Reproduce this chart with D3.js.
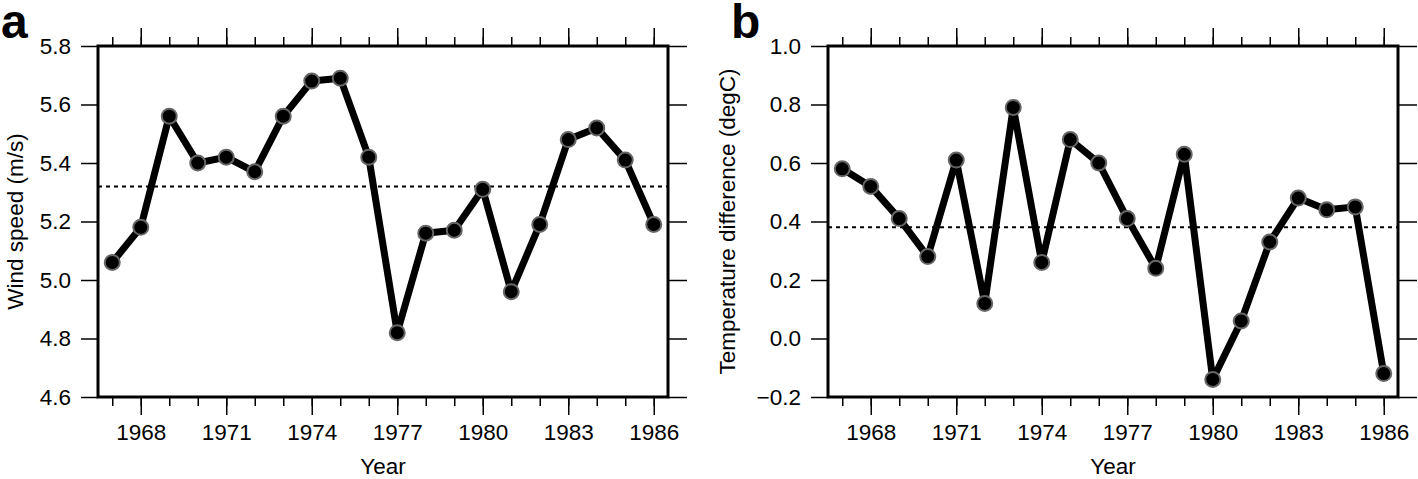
<!DOCTYPE html>
<html lang="en">
<head>
<meta charset="UTF-8">
<title>Wind speed and temperature difference</title>
<style>
  body { margin: 0; background: #fff; }
  svg { display: block; font-family: "Liberation Sans", Arial, sans-serif; }
</style>
</head>
<body>
<svg id="chart" width="1418" height="479"></svg>
<script src="https://cdn.jsdelivr.net/npm/d3@7/dist/d3.min.js"></script>
<script>
const years = d3.range(1967, 1987);
const windSpeed = [5.06, 5.18, 5.56, 5.40, 5.42, 5.37, 5.56, 5.68, 5.69, 5.42,
                   4.82, 5.16, 5.17, 5.31, 4.96, 5.19, 5.48, 5.52, 5.41, 5.19];
const tempDiff = [0.58, 0.52, 0.41, 0.28, 0.61, 0.12, 0.79, 0.26, 0.68, 0.60,
                  0.41, 0.24, 0.63, -0.14, 0.06, 0.33, 0.48, 0.44, 0.45, -0.12];
const windMean = 5.32;
const tempMean = 0.38;
const yearTicks = [1968, 1971, 1974, 1977, 1980, 1983, 1986];
const windTicks = [4.6, 4.8, 5.0, 5.2, 5.4, 5.6, 5.8];
const tempTicks = [-0.2, 0.0, 0.2, 0.4, 0.6, 0.8, 1.0];

const svg = d3.select("#chart");
const plotTop = 46, plotBottom = 397;
const fontSize = 22.5;

function panel({left, right, values, mean, domain, ticks, ylabel, ylabelX, letter}) {
    const x = d3.scaleLinear().domain([1966.5, 1986.5]).range([left, right]);
    const y = d3.scaleLinear().domain(domain).range([plotBottom, plotTop]);
    const g = svg.append("g");
    const fmt = d => d < 0 ? "\u2212" + d3.format(".1f")(-d) : d3.format(".1f")(d);

    const styleAxis = a => a.call(s => s.select(".domain").remove())
        .call(s => s.selectAll(".tick line").attr("stroke", "#000").attr("stroke-width", 1.5))
        .call(s => s.selectAll(".tick text").attr("font-size", fontSize).attr("fill", "#000")
            .attr("font-family", "'Liberation Sans', Arial, sans-serif"));

    // year ticks: minor every year, major every 3 years
    g.append("g").attr("transform", `translate(0,${plotBottom})`)
        .call(d3.axisBottom(x).tickValues(years).tickSize(9).tickFormat(""))
        .call(styleAxis);
    g.append("g").attr("transform", `translate(0,${plotBottom})`)
        .call(d3.axisBottom(x).tickValues(yearTicks).tickSize(18).tickPadding(9).tickFormat(d3.format("d")))
        .call(styleAxis);
    g.append("g").attr("transform", `translate(0,${plotTop})`)
        .call(d3.axisTop(x).tickValues(years).tickSize(9).tickFormat(""))
        .call(styleAxis);
    g.append("g").attr("transform", `translate(0,${plotTop})`)
        .call(d3.axisTop(x).tickValues(yearTicks).tickSize(18).tickFormat(""))
        .call(styleAxis);

    g.append("g").attr("transform", `translate(${left},0)`)
        .call(d3.axisLeft(y).tickValues(ticks).tickSize(17).tickPadding(10).tickFormat(fmt))
        .call(styleAxis);
    g.append("g").attr("transform", `translate(${right},0)`)
        .call(d3.axisRight(y).tickValues(ticks).tickSize(19).tickFormat(""))
        .call(styleAxis);

    g.append("line")
        .attr("x1", left).attr("x2", right)
        .attr("y1", y(mean)).attr("y2", y(mean))
        .attr("stroke", "#000").attr("stroke-width", 2)
        .attr("stroke-dasharray", "4,4");

    const data = years.map((yr, i) => [yr, values[i]]);
    g.append("path")
        .datum(data)
        .attr("fill", "none")
        .attr("stroke", "#000")
        .attr("stroke-width", 7)
        .attr("stroke-linejoin", "round")
        .attr("d", d3.line().x(d => x(d[0])).y(d => y(d[1])));

    g.append("g").selectAll("circle")
        .data(data)
        .join("circle")
        .attr("cx", d => x(d[0]))
        .attr("cy", d => y(d[1]))
        .attr("r", 7.5)
        .attr("fill", "#000")
        .attr("stroke", "#666")
        .attr("stroke-width", 2);

    g.append("rect")
        .attr("x", left).attr("y", plotTop)
        .attr("width", right - left).attr("height", plotBottom - plotTop)
        .attr("fill", "none").attr("stroke", "#000").attr("stroke-width", 3);

    g.append("text")
        .attr("x", (left + right) / 2).attr("y", 474)
        .attr("text-anchor", "middle").attr("font-size", fontSize)
        .text("Year");

    g.append("text")
        .attr("transform", `translate(${ylabelX},${(plotTop + plotBottom) / 2}) rotate(-90)`)
        .attr("text-anchor", "middle").attr("font-size", fontSize)
        .text(ylabel);

    g.append("text")
        .attr("x", left - 97).attr("y", 38)
        .attr("font-size", 48).attr("font-weight", "bold")
        .text(letter);
}

panel({left: 98, right: 668, values: windSpeed, mean: windMean, domain: [4.6, 5.8],
       ticks: windTicks, ylabel: "Wind speed (m/s)", ylabelX: 23, letter: "a"});
panel({left: 828, right: 1398, values: tempDiff, mean: tempMean, domain: [-0.2, 1.0],
       ticks: tempTicks, ylabel: "Temperature difference (degC)", ylabelX: 735, letter: "b"});
</script>
</body>
</html>
